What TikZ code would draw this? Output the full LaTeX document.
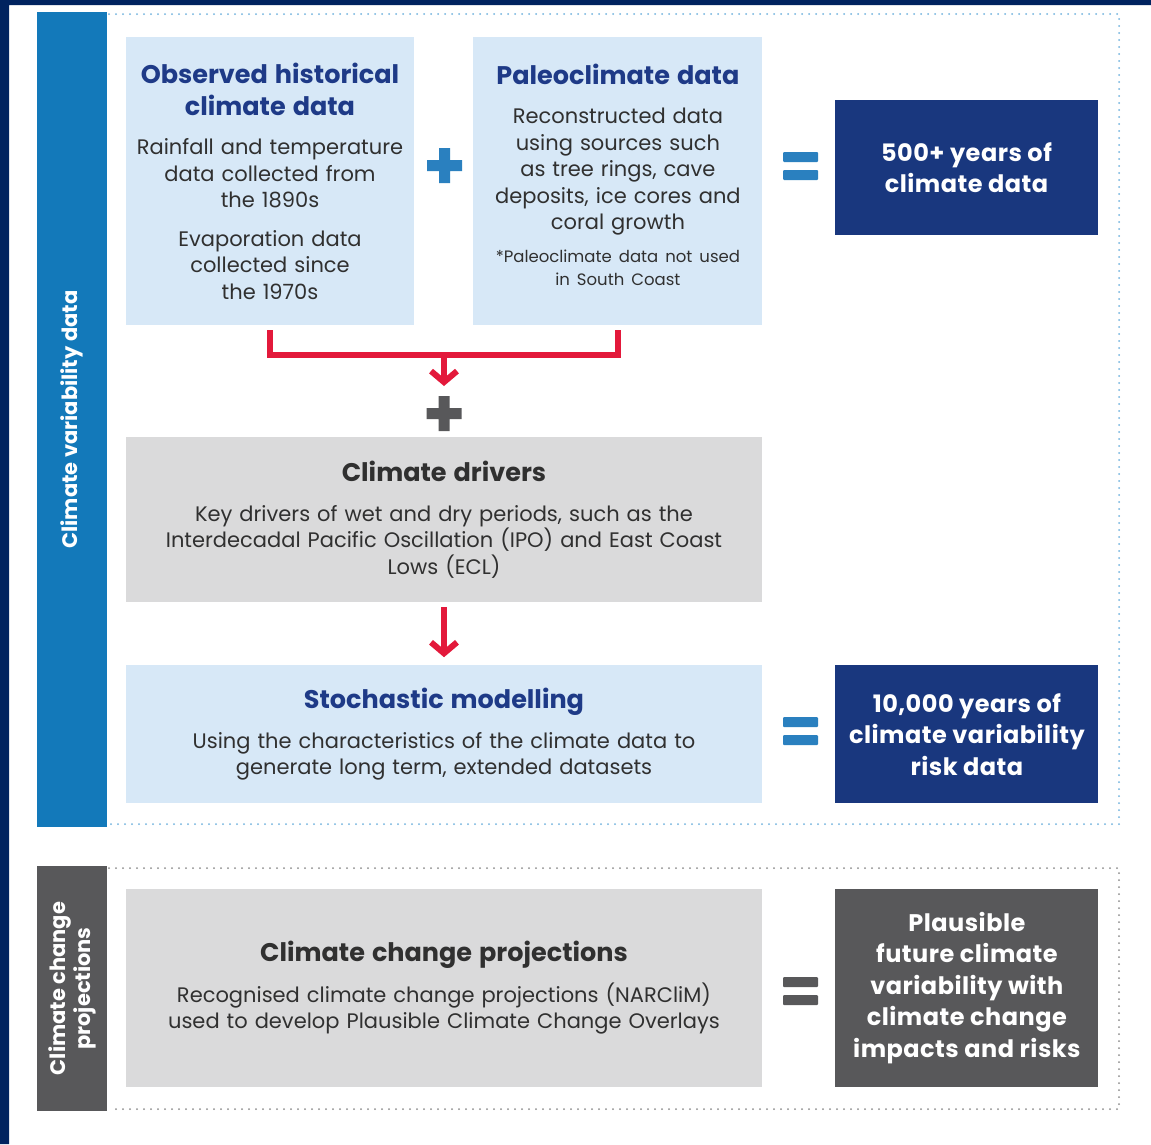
\documentclass[tikz,border=0pt]{standalone}
\usepackage{fontspec}
\setmainfont{Poppins}
\usetikzlibrary{positioning,arrows.meta}
\definecolor{frameblue}{HTML}{00235F}
\definecolor{barblue}{HTML}{1379BA}
\definecolor{paleblue}{HTML}{D7E8F7}
\definecolor{navy}{HTML}{19377E}
\definecolor{headblue}{HTML}{1E3A87}
\definecolor{signblue}{HTML}{2A80BF}
\definecolor{arrowred}{HTML}{E3193B}
\definecolor{lightgrey}{HTML}{DADADB}
\definecolor{darkgrey}{HTML}{58585A}
\definecolor{textgrey}{HTML}{303030}
\definecolor{dotblue}{HTML}{6FB2DE}
\definecolor{dotgrey}{HTML}{8C8C8C}
\newcommand\headfont{\fontsize{25.5}{32}\selectfont\bfseries}
\newcommand\bodyfont{\fontsize{21}{26.5}\selectfont}
\newcommand\notefont{\fontsize{16.5}{23}\selectfont}
\newcommand\resfont{\fontsize{24}{31.5}\selectfont\bfseries\addfontfeature{LetterSpace=2}}
\newcommand\barfont{\fontsize{21}{25}\selectfont\bfseries}
\newcommand\boxhead[2][headblue]{{\color{#1}\headfont #2\par}\vspace{13pt}}
\begin{document}
\begin{tikzpicture}[x=1pt, y=-1pt,
    lightbox/.style={fill=paleblue, text=textgrey, font=\bodyfont, align=center, inner sep=0pt},
    greybox/.style={lightbox, fill=lightgrey},
    resultbox/.style={fill=navy, text=white, font=\resfont, align=center, inner sep=0pt, minimum width=263pt},
    sidebar/.style={fill=barblue, text=white, font=\barfont, align=center, rotate=90, minimum height=70pt},
    dotframe/.style={dotblue, line width=2pt, line cap=round, dash pattern=on 0pt off 7pt},
    redline/.style={arrowred, line width=6pt},
    redarrow/.style={redline, -{Straight Barb[length=11pt,width=26pt]}},
    plussign/.pic={\fill[pic actions] (-17.5,-5.5) rectangle (17.5,5.5) (-5.5,-17.5) rectangle (5.5,17.5);},
    equalsign/.pic={\fill[pic actions, rounded corners=1pt] (-17.5,-14) rectangle (17.5,-4) (-17.5,4) rectangle (17.5,14);}]
  \useasboundingbox (0,0) rectangle (1151,1144);
  \fill[white] (0,0) rectangle (1151,1144);
  \fill[frameblue] (0,0) rectangle (9,1144) (0,0) rectangle (1151,5);

  \node (cvbar) [sidebar, minimum width=815pt] at (72,419.5) {Climate variability data};
  \node (ccbar) [sidebar, fill=darkgrey, minimum width=245pt] at (72,988.5) {Climate change\\projections};
  \draw[dotframe] (109,14) -| (1119,824) -- (109,824);
  \draw[dotframe, dotgrey] (109,868) -| (1119,1109) -- (109,1109);

  \node (obs) [lightbox, minimum width=288pt, minimum height=288pt, text width=284pt] at (270,181)
    {\boxhead{Observed historical\\climate data}Rainfall and temperature\\data collected from\\the 1890s\par
     \vspace{12pt}Evaporation data\\collected since\\the 1970s};
  \node (paleo) [lightbox, minimum width=289pt, minimum height=288pt, text width=284pt, right=59pt of obs]
    {\boxhead{Paleoclimate data}Reconstructed data\\using sources such\\as tree rings, cave\\deposits, ice cores and\\coral growth\par
     \vspace{10pt}{\notefont *Paleoclimate data not used\\in South Coast\par}\vspace{12pt}};
  \node (res1) [resultbox, minimum height=135pt] at (966.5,167.5) {500+ years of\\climate data};
  \node (drivers) [greybox, minimum width=636pt, minimum height=165pt, text width=620pt] at (444,519.5)
    {\boxhead[textgrey]{Climate drivers}Key drivers of wet and dry periods, such as the\\Interdecadal Pacific Oscillation (IPO) and East Coast\\Lows (ECL)};
  \node (stoch) [lightbox, minimum width=636pt, minimum height=138pt, text width=620pt, below=63pt of drivers]
    {\boxhead{Stochastic modelling}Using the characteristics of the climate data to\\generate long term, extended datasets};
  \node (res2) [resultbox, minimum height=138pt, right=73pt of stoch] {10,000 years of\\climate variability\\risk data};
  \node (proj) [greybox, minimum width=636pt, minimum height=198pt, text width=620pt] at (444,988)
    {\boxhead[textgrey]{Climate change projections}Recognised climate change projections (NARCliM)\\used to develop Plausible Climate Change Overlays};
  \node (res3) [resultbox, fill=darkgrey, minimum height=198pt, right=73pt of proj] {Plausible\\future climate\\variability with\\climate change\\impacts and risks};

  \coordinate (join) at (444,355);
  \coordinate (jointip) at (444,386);
  \draw[redline] ([yshift=-5pt]obs.south) |- (join) -| ([yshift=-5pt]paleo.south);
  \draw[redarrow] (join) -- (jointip);
  \draw[redarrow] ([yshift=-5pt]drivers.south) -- ([yshift=8pt]stoch.north);

  \pic[fill=signblue] at (444.5,165.5) {plussign};
  \pic[fill=darkgrey] at (444,413.5) {plussign};
  \foreach \y/\c in {166/signblue, 731/signblue, 991/darkgrey}
    \pic[fill=\c] at (800.5,\y) {equalsign};
\end{tikzpicture}
\end{document}
